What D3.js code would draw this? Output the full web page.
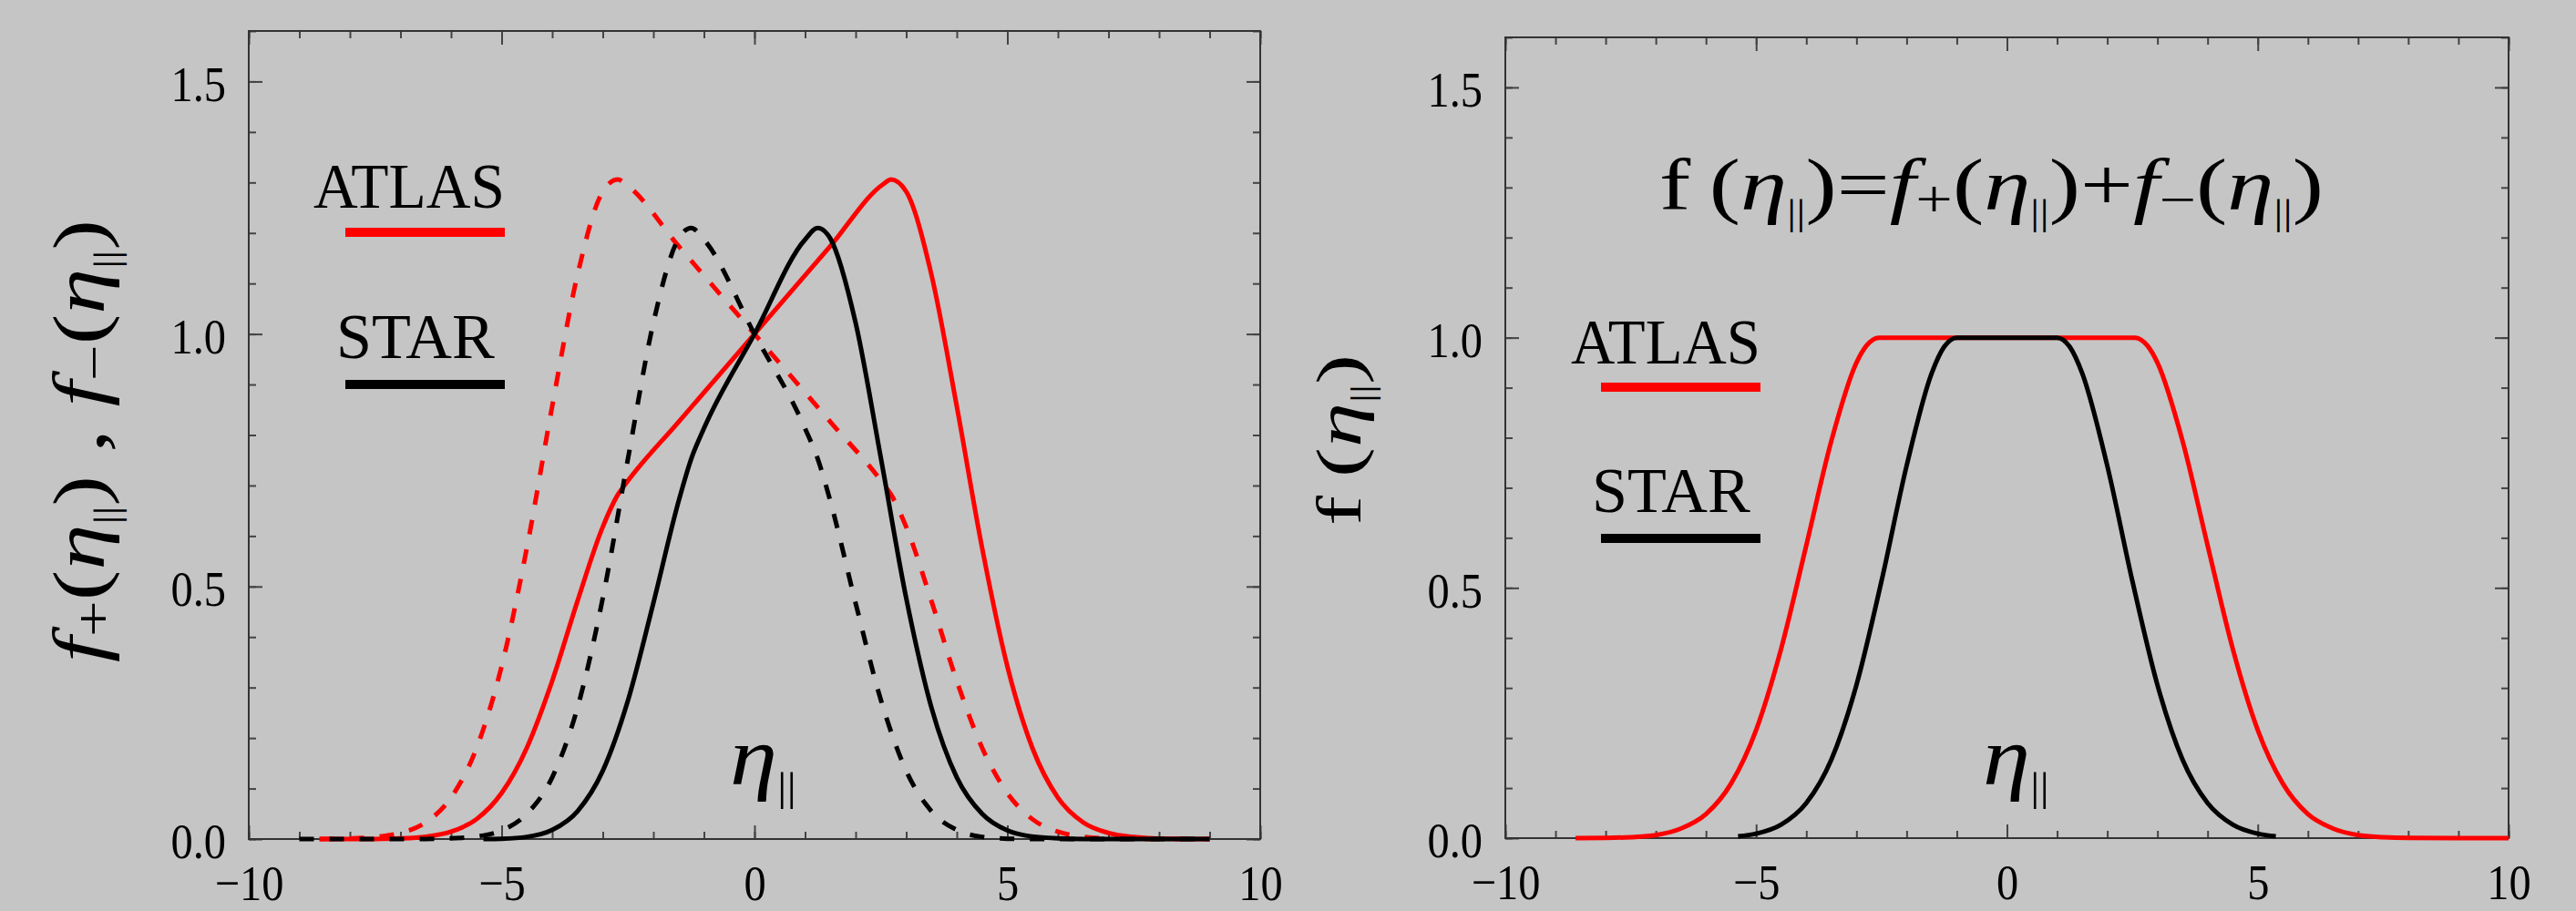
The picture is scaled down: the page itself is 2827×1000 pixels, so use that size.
<!DOCTYPE html>
<html>
<head>
<meta charset="utf-8">
<script src="https://cdn.jsdelivr.net/npm/d3@7"></script>
<style>
  body { margin: 0; background: #c4c5c4; }
  svg { display: block; }
  text { font-family: 'Times New Roman', Times, 'Liberation Serif', serif; fill: #000; white-space: pre; }
</style>
</head>
<body>
<svg id="chart" width="2827" height="1000"></svg>
<script>

// left panel: f+ and f- (ATLAS, STAR)
const etaAtlas = [-8.6, -8, -7.5, -7, -6.5, -6, -5.5, -5, -4.5, -4, -3.5, -3, -2.7, -2.55, -1.5, 0, 1.5, 2.55, 2.7, 3, 3.5, 4, 4.5, 5, 5.5, 6, 6.5, 7, 7.5, 8, 8.6, 9]
const atlasPlus = [0, 0, 0.0002, 0.0012, 0.0046, 0.0145, 0.039, 0.091, 0.181, 0.313, 0.471, 0.618, 0.682, 0.703, 0.826, 1.0, 1.174, 1.297, 1.306, 1.282, 1.117, 0.857, 0.577, 0.342, 0.179, 0.082, 0.033, 0.012, 0.004, 0.001, 0.0002, 0]
const atlasMinus = [0.0002, 0.001, 0.004, 0.012, 0.033, 0.082, 0.179, 0.342, 0.577, 0.857, 1.117, 1.282, 1.306, 1.297, 1.174, 1.0, 0.826, 0.703, 0.682, 0.618, 0.471, 0.313, 0.181, 0.091, 0.039, 0.0145, 0.0046, 0.0012, 0.0002, 0, 0, 0]

const etaStar = [-9, -8, -7, -6.5, -6, -5.36, -5, -4.5, -4, -3.5, -3, -2.5, -2, -1.5, -1.25, -1, 0, 1, 1.25, 1.5, 2, 2.5, 3, 3.5, 4, 4.5, 5, 5.36, 6, 6.5, 7, 8, 9]
const starPlus = [null, null, null, null, null, 0, 0.0006, 0.0043, 0.018, 0.055, 0.135, 0.275, 0.467, 0.669, 0.753, 0.813, 1.0, 1.187, 1.210, 1.189, 1.022, 0.754, 0.477, 0.260, 0.122, 0.050, 0.017, 0.007, 0.0013, 0.0002, 0, 0, 0]
const starMinus = [0, 0, 0, 0.0002, 0.0013, 0.007, 0.017, 0.050, 0.122, 0.260, 0.477, 0.754, 1.022, 1.189, 1.210, 1.187, 1.0, 0.813, 0.753, 0.669, 0.467, 0.275, 0.135, 0.055, 0.018, 0.0043, 0.0006, 0, 0, 0, 0, 0, 0]

// right panel: f = f+ + f-
const etaAtlasSum = [-8.6, -8, -7.5, -7, -6.5, -6, -5.5, -5, -4.5, -4, -3.5, -3, -2.8, -2.55, 2.55, 2.8, 3, 3.5, 4, 4.5, 5, 5.5, 6, 6.5, 7, 7.5, 8, 9, 10]
const atlasSum = [0.0001, 0.0005, 0.002, 0.006, 0.019, 0.048, 0.109, 0.216, 0.379, 0.585, 0.794, 0.950, 0.984, 1.0, 1.0, 0.984, 0.950, 0.794, 0.585, 0.379, 0.216, 0.109, 0.048, 0.019, 0.006, 0.002, 0.0005, 0, 0]
const etaStarSum = [-5.36, -5, -4.5, -4, -3.5, -3, -2.5, -2, -1.5, -1.25, -1, 1, 1.25, 1.5, 2, 2.5, 3, 3.5, 4, 4.5, 5, 5.36]
const starSum = [0.0036, 0.0088, 0.027, 0.070, 0.157, 0.306, 0.514, 0.744, 0.929, 0.982, 1.0, 1.0, 0.982, 0.929, 0.744, 0.514, 0.306, 0.157, 0.070, 0.027, 0.0088, 0.0036]

const xMajor = [-10, -5, 0, 5, 10]
const xMinor = d3.range(-10, 10.5, 1)
const yMajor = [0, 0.5, 1.0, 1.5]
const yMinor = d3.range(0, 1.61, 0.1)
const xTickLabels = ['\u221210', '\u22125', '0', '5', '10']
const yTickLabels = ['0.0', '0.5', '1.0', '1.5']
const legendNames = ['ATLAS', 'STAR']
const legendColors = ['#ff0000', '#000000']

const svg = d3.select('#chart')
svg.append('rect').attr('width', 2827).attr('height', 1000).attr('fill', '#c4c5c4')

const zip = (xs, ys) => xs.map((v, i) => [v, ys[i]])

// text with italic parts and subscripts
function rich(g, parts, size) {
  const t = g.append('text').attr('font-size', size)
  let shift = 0
  parts.forEach(p => {
    const ts = t.append('tspan').text(p[0])
    let target = 0
    if (p[1] === 'i') ts.attr('font-style', 'italic')
    if (p[1] === 'sub') { ts.attr('font-size', size * 0.7); target = size * 0.1 }
    if (p[1] === 'bar') { ts.attr('font-size', size * 0.5); target = size * 0.2 }
    if (target !== shift) ts.attr('dy', target - shift)
    shift = target
  })
  return t
}

function fit(t, width, pre) {
  const w = t.node().getBBox().width
  t.attr('transform', `${pre} scale(${width / w}, 1)`)
  return t
}

const eta = [['\u03b7', 'i'], ['||', 'bar']]

function drawPanel(p) {
  const x = d3.scaleLinear().domain([-10, 10]).range([p.left, p.right])
  const y = d3.scaleLinear().domain([0, 1.6]).range([p.bottom, p.top])
  const g = svg.append('g')

  const tickStyle = sel => {
    sel.attr('font-family', null)
    sel.select('.domain').remove()
    sel.selectAll('line').attr('stroke', '#444').attr('stroke-width', 2)
  }

  // minor ticks on all four sides
  g.append('g').attr('transform', `translate(0,${p.bottom})`)
    .call(d3.axisBottom(x).tickValues(xMinor).tickSizeInner(-8).tickSizeOuter(0).tickFormat(''))
    .call(tickStyle)
  g.append('g').attr('transform', `translate(0,${p.top})`)
    .call(d3.axisTop(x).tickValues(xMinor).tickSizeInner(-8).tickSizeOuter(0).tickFormat(''))
    .call(tickStyle)
  g.append('g').attr('transform', `translate(${p.left},0)`)
    .call(d3.axisLeft(y).tickValues(yMinor).tickSizeInner(-8).tickSizeOuter(0).tickFormat(''))
    .call(tickStyle)
  g.append('g').attr('transform', `translate(${p.right},0)`)
    .call(d3.axisRight(y).tickValues(yMinor).tickSizeInner(-8).tickSizeOuter(0).tickFormat(''))
    .call(tickStyle)

  // major ticks
  g.append('g').attr('transform', `translate(0,${p.top})`)
    .call(d3.axisTop(x).tickValues(xMajor).tickSizeInner(-15).tickSizeOuter(0).tickFormat(''))
    .call(tickStyle)
  g.append('g').attr('transform', `translate(${p.right},0)`)
    .call(d3.axisRight(y).tickValues(yMajor).tickSizeInner(-15).tickSizeOuter(0).tickFormat(''))
    .call(tickStyle)

  const sx = 0.88
  g.append('g').attr('transform', `translate(0,${p.bottom})`)
    .call(d3.axisBottom(x).tickValues(xMajor).tickSizeInner(-15).tickSizeOuter(0)
      .tickFormat((d, i) => xTickLabels[i]))
    .call(tickStyle)
    .call(a => a.selectAll('text')
      .attr('y', 67).attr('dy', null)
      .attr('font-size', 55)
      .attr('transform', `scale(${sx},1)`))

  g.append('g').attr('transform', `translate(${p.left},0)`)
    .call(d3.axisLeft(y).tickValues(yMajor).tickSizeInner(-15).tickSizeOuter(0)
      .tickFormat((d, i) => yTickLabels[i]))
    .call(tickStyle)
    .call(a => a.selectAll('text')
      .attr('x', -25 / sx).attr('dy', '0.38em')
      .attr('font-size', 55)
      .attr('transform', `scale(${sx},1)`))

  // frame
  g.append('rect')
    .attr('x', p.left).attr('y', p.top)
    .attr('width', p.right - p.left).attr('height', p.bottom - p.top)
    .attr('fill', 'none').attr('stroke', '#333').attr('stroke-width', 2)

  g.append('clipPath').attr('id', p.id)
    .append('rect')
    .attr('x', p.left).attr('y', p.top - 3)
    .attr('width', p.right - p.left).attr('height', p.bottom - p.top + 8)

  const line = d3.line()
    .defined(d => d[1] != null)
    .x(d => x(d[0]))
    .y(d => y(d[1]))
    .curve(d3.curveMonotoneX)

  g.append('g').attr('clip-path', `url(#${p.id})`)
    .selectAll('path')
    .data(p.curves)
    .enter().append('path')
    .attr('d', c => line(c.data))
    .attr('fill', 'none')
    .attr('stroke', c => c.color)
    .attr('stroke-width', 5)
    .attr('stroke-dasharray', c => c.dashed ? '16,17' : null)

  // legend
  p.legend.forEach((l, i) => {
    fit(g.append('text').attr('font-size', 70).text(legendNames[i]), l.w, `translate(${l.tx},${l.ty})`)
    g.append('line')
      .attr('x1', p.legendX[0]).attr('x2', p.legendX[1])
      .attr('y1', l.ly).attr('y2', l.ly)
      .attr('stroke', legendColors[i]).attr('stroke-width', 10)
  })

  // axis title
  fit(rich(g, eta, 90), 73, `translate(${p.etaX},861)`)
  return g
}

const left = drawPanel({
  id: 'clipL', left: 273, right: 1383, top: 34, bottom: 921,
  curves: [
    { data: zip(etaAtlas, atlasPlus), color: legendColors[0] },
    { data: zip(etaAtlas, atlasMinus), color: legendColors[0], dashed: true },
    { data: zip(etaStar, starPlus), color: legendColors[1] },
    { data: zip(etaStar, starMinus), color: legendColors[1], dashed: true }
  ],
  legendX: [379, 554],
  legend: [{ tx: 344, ty: 228, w: 210, ly: 255 }, { tx: 369, ty: 393, w: 174, ly: 422 }],
  etaX: 801
})

const right = drawPanel({
  id: 'clipR', left: 1652, right: 2753, top: 41, bottom: 920,
  curves: [
    { data: zip(etaAtlasSum, atlasSum), color: legendColors[0] },
    { data: zip(etaStarSum, starSum), color: legendColors[1] }
  ],
  legendX: [1757, 1932],
  legend: [{ tx: 1724, ty: 399, w: 208, ly: 425 }, { tx: 1747, ty: 562, w: 174, ly: 591 }],
  etaX: 2176
})

// y axis titles
const leftTitle = rich(left, [['f', 'i'], ['+', 'sub'], ['('], ...eta, [')'], [' , '],
  ['f', 'i'], ['\u2212', 'sub'], ['('], ...eta, [')']], 80)
  .attr('text-anchor', 'middle')
fit(leftTitle, 486, 'translate(114,484) rotate(-90)')

const rightTitle = rich(right, [['f'], ['\u2009('], ...eta, [')']], 70)
  .attr('text-anchor', 'middle')
fit(rightTitle, 188, 'translate(1493,483) rotate(-90)')

// formula
const formula = rich(right, [['f'], ['\u2009('], ...eta, [')'], ['='], ['f', 'i'], ['+', 'sub'], ['('], ...eta, [')'],
  ['+'], ['f', 'i'], ['\u2212', 'sub'], ['('], ...eta, [')']], 80)
fit(formula, 729, 'translate(1821,230)')

</script>
</body>
</html>
